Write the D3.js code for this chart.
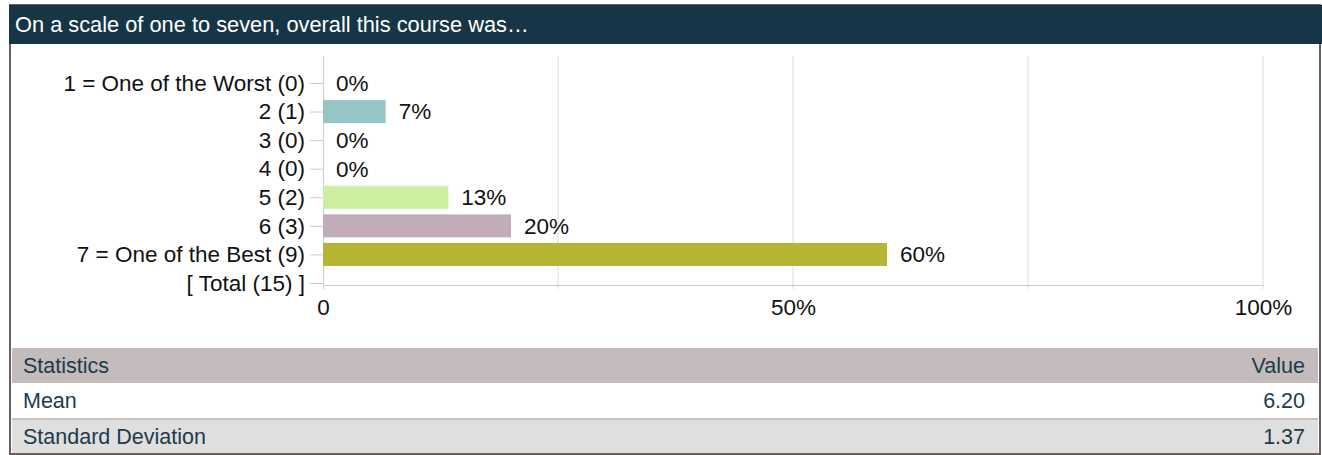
<!DOCTYPE html>
<html>
<head>
<meta charset="utf-8">
<script src="https://cdn.jsdelivr.net/npm/d3@7"></script>
<style>
  body { margin: 0; background: #fff; }
  svg { display: block; font-family: "Liberation Sans", Arial, sans-serif; }
</style>
</head>
<body>
<div id="chart"></div>
<script>
// page size
var w = 1322;
var h = 455;
var labelSize = "22.5px";
var titleSize = "21.8px";
var tableSize = "21.5px";

// data
var title = "On a scale of one to seven, overall this course was\u2026";
var categories = ["1 = One of the Worst (0)", "2 (1)", "3 (0)", "4 (0)", "5 (2)", "6 (3)", "7 = One of the Best (9)", "[ Total (15) ]"];
var counts = [0, 1, 0, 0, 2, 3, 9];
var total = 15;
var barColors = ["#96c5c6", "#96c5c6", "#96c5c6", "#96c5c6", "#cdeea0", "#c1adb8", "#b5b533"];
var xTicks = [0, 0.5, 1];
var gridTicks = [0.25, 0.5, 0.75, 1];
var statNames = ["Mean", "Standard Deviation"];
var statValues = ["6.20", "1.37"];

var dataset = counts.map(function (c, i) {
    return { label: categories[i], value: c / total, color: barColors[i] };
});

var svg = d3.select("#chart")
    .append("svg")
    .attr("width", w)
    .attr("height", h);

//Frame and title bar
svg.append("rect")
    .attr("x", 10).attr("y", 5)
    .attr("width", 1310).attr("height", 449)
    .attr("fill", "#fff")
    .attr("stroke", "#6b5f5f")
    .attr("stroke-width", 2);

svg.append("rect")
    .attr("x", 9).attr("y", 5)
    .attr("width", 1313).attr("height", 39)
    .attr("fill", "#163647");

svg.append("text")
    .attr("x", 15).attr("y", 32)
    .attr("font-size", titleSize)
    .attr("fill", "#fff")
    .text(title);

//Scales
var xScale = d3.scaleLinear()
    .domain([0, 1])
    .range([323, 1263]);

var yScale = d3.scalePoint()
    .domain(categories)
    .range([83, 283]);

var barH = 23;

//Grid lines
svg.append("g")
    .selectAll("line")
    .data(gridTicks)
    .enter()
    .append("line")
    .attr("x1", function (d) { return xScale(d); })
    .attr("x2", function (d) { return xScale(d); })
    .attr("y1", 56)
    .attr("y2", 289)
    .attr("stroke", "#dcdcdc")
    .attr("stroke-width", 1);

//Y axis
var yAxis = d3.axisLeft(yScale)
    .tickSize(13)
    .tickPadding(5);

var gy = svg.append("g")
    .attr("class", "y axis")
    .attr("transform", "translate(323,0)")
    .call(yAxis);
gy.select(".domain").remove();
gy.selectAll(".tick line").attr("stroke", "#cccccc");
gy.selectAll(".tick text")
    .attr("font-size", labelSize)
    .attr("fill", "#111")
    .attr("font-family", "Liberation Sans, Arial, sans-serif");

//Axis lines
svg.append("line")
    .attr("x1", 323.5).attr("x2", 323.5)
    .attr("y1", 56).attr("y2", 289)
    .attr("stroke", "#cccccc");

//X axis
var xAxis = d3.axisBottom(xScale)
    .tickValues(xTicks)
    .tickSize(0)
    .tickPadding(14)
    .tickFormat(function (d) { return d === 0 ? "0" : d3.format(".0%")(d); });

var gx = svg.append("g")
    .attr("class", "x axis")
    .attr("transform", "translate(0,285)")
    .call(xAxis);
gx.select(".domain").attr("stroke", "#cccccc");
gx.selectAll(".tick text")
    .attr("font-size", labelSize)
    .attr("fill", "#111")
    .attr("font-family", "Liberation Sans, Arial, sans-serif");

//Bars
svg.selectAll("rect.bar")
    .data(dataset)
    .enter()
    .append("rect")
    .attr("class", "bar")
    .attr("x", xScale(0))
    .attr("y", function (d) { return yScale(d.label) - barH / 2; })
    .attr("width", function (d) { return xScale(d.value) - xScale(0); })
    .attr("height", barH)
    .attr("fill", function (d) { return d.color; });

//Value labels
svg.selectAll("text.val")
    .data(dataset)
    .enter()
    .append("text")
    .attr("class", "val")
    .attr("x", function (d) { return xScale(d.value) + 13; })
    .attr("y", function (d) { return yScale(d.label); })
    .attr("dy", "0.35em")
    .attr("font-size", labelSize)
    .attr("fill", "#111")
    .text(function (d) { return Math.round(d.value * 100) + "%"; });

//Statistics table
var tableX = 12, tableW = 1306;
var table = svg.append("g");

table.append("rect")
    .attr("x", tableX).attr("y", 348)
    .attr("width", tableW).attr("height", 35)
    .attr("fill", "#c4bcbc");
table.append("rect")
    .attr("x", tableX).attr("y", 383)
    .attr("width", tableW).attr("height", 35)
    .attr("fill", "#ffffff");
table.append("rect")
    .attr("x", tableX).attr("y", 418)
    .attr("width", tableW).attr("height", 2)
    .attr("fill", "#c8c4c4");
table.append("rect")
    .attr("x", tableX).attr("y", 420)
    .attr("width", tableW).attr("height", 33)
    .attr("fill", "#e0dfdf");

var rowY = [365, 400, 436];
var leftCol = ["Statistics"].concat(statNames);
var rightCol = ["Value"].concat(statValues);

table.selectAll("text.l")
    .data(leftCol)
    .enter()
    .append("text")
    .attr("x", 23)
    .attr("y", function (d, i) { return rowY[i]; })
    .attr("dy", "0.35em")
    .attr("font-size", tableSize)
    .attr("fill", "#1d3b4b")
    .text(function (d) { return d; });

table.selectAll("text.r")
    .data(rightCol)
    .enter()
    .append("text")
    .attr("x", 1305)
    .attr("y", function (d, i) { return rowY[i]; })
    .attr("dy", "0.35em")
    .attr("text-anchor", "end")
    .attr("font-size", tableSize)
    .attr("fill", "#1d3b4b")
    .text(function (d) { return d; });
</script>
</body>
</html>
